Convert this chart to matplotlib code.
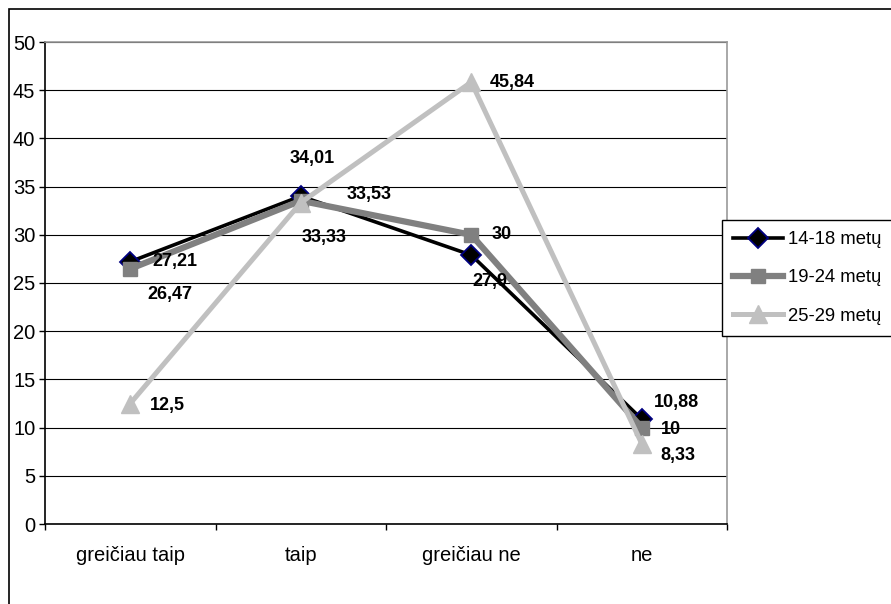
import matplotlib
matplotlib.use("Agg")
import matplotlib.pyplot as plt
from matplotlib.patches import Rectangle

plt.rcParams['font.family'] = ['Liberation Sans', 'DejaVu Sans']

categories = ["greičiau taip", "taip", "greičiau ne", "ne"]
series_names = ["14-18 metų", "19-24 metų", "25-29 metų"]
s1418 = [27.21, 34.01, 27.9, 10.88]
s1924 = [26.47, 33.53, 30, 10]
s2529 = [12.5, 33.33, 45.84, 8.33]
y_ticks = [0, 5, 10, 15, 20, 25, 30, 35, 40, 45, 50]

W, H = 891, 604
fig = plt.figure(figsize=(W / 100, H / 100), dpi=100)
ax = fig.add_axes([45 / W, 1 - 524 / H, (727 - 45) / W, (524 - 42) / H])

# outer chart frame (extends beyond image to the right and bottom)
fig.patches.append(Rectangle((9 / W, -0.1), 1.2, 1 - 9 / H + 0.1, transform=fig.transFigure,
                             fill=False, edgecolor='black', linewidth=1.2, zorder=0))

x = list(range(len(categories)))
styles = [
    dict(color='black', lw=2.6, marker='D', ms=10, mfc='black', mec='#000080', mew=1.3),
    dict(color='#808080', lw=4.5, marker='s', ms=10, mfc='#808080', mec='#808080', mew=1),
    dict(color='#C0C0C0', lw=3.6, marker='^', ms=13, mfc='#C0C0C0', mec='#C0C0C0', mew=1),
]
all_series = [s1418, s1924, s2529]
for vals, name, st in zip(all_series, series_names, styles):
    ax.plot(x, vals, label=name, zorder=3, clip_on=False, **st)

# label offsets in pixels: (dx to label left edge, dy of label center; positive = down)
offsets = [
    [(22, 0), (-11, -38), (1, 26), (12, -17)],
    [(17, 26), (46, -6), (20, 0), (19, 2)],
    [(20, 2), (1, 35), (18, 0), (19, 12)],
]
for vals, offs in zip(all_series, offsets):
    for xi, v, (dx, dy) in zip(x, vals, offs):
        lab = ('%g' % v).replace('.', ',')
        ax.annotate(lab, (xi, v), xytext=(dx * 0.72, -dy * 0.72), textcoords='offset points',
                    ha='left', va='center', fontsize=13, fontweight='bold', zorder=5)

ax.set_xlim(-0.5, 3.5)
ax.set_ylim(0, 50)
ax.set_yticks(y_ticks)
ax.set_yticklabels([str(t) for t in y_ticks])
ax.yaxis.grid(True, color='black', linewidth=0.8)
ax.set_axisbelow(True)

ax.set_xticks(x)
ax.set_xticklabels(categories)
ax.set_xticks([-0.5, 0.5, 1.5, 2.5, 3.5], minor=True)
ax.tick_params(axis='x', which='major', length=0, pad=16, labelsize=14.5)
ax.tick_params(axis='x', which='minor', length=4, direction='out', width=1)
ax.tick_params(axis='y', which='major', length=4, direction='out', width=1, pad=3, labelsize=14.5)

for s in ['left', 'bottom']:
    ax.spines[s].set_color('black')
    ax.spines[s].set_linewidth(1.2)
for s in ['top', 'right']:
    ax.spines[s].set_color('#999999')
    ax.spines[s].set_linewidth(1.2)

leg = fig.legend(loc='upper left', bbox_to_anchor=(722 / W, 1 - 220 / H), fontsize=13.3,
                 frameon=True, fancybox=False, edgecolor='black', framealpha=1,
                 handlelength=2.7, handletextpad=0.3, labelspacing=1.15,
                 borderpad=0.6, borderaxespad=0)
leg.get_frame().set_linewidth(1.0)

fig.savefig("out.png", dpi=100)
